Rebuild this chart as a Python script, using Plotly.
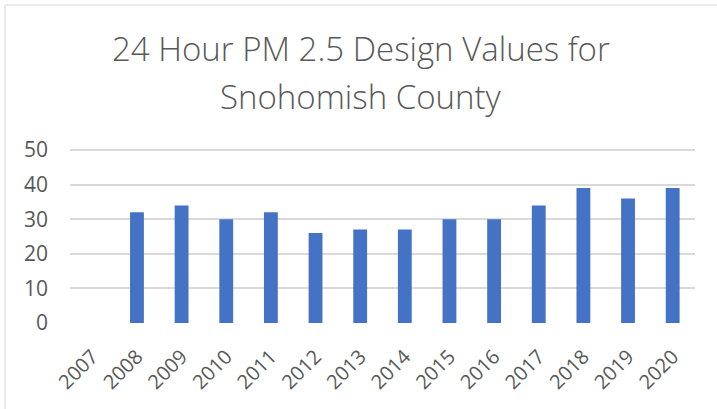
import plotly.graph_objects as go

years = ["2007", "2008", "2009", "2010", "2011", "2012", "2013", "2014",
         "2015", "2016", "2017", "2018", "2019", "2020"]
values = [None, 32, 34, 30, 32, 26, 27, 27, 30, 30, 34, 39, 36, 39]
y_ticks = [0, 10, 20, 30, 40, 50]
title_lines = ["24 Hour PM 2.5 Design Values for", "Snohomish County"]

fig = go.Figure(go.Bar(x=years, y=values, marker=dict(color="#4472C4", line=dict(width=0))))

W, H = 717, 409
L, R, T, B = 70, 22, 149, 86
ph = H - T - B
fig.update_layout(
    width=W, height=H,
    margin=dict(l=L, r=R, t=T, b=B, autoexpand=False),
    paper_bgcolor="white", plot_bgcolor="white",
    bargap=0.69,
    showlegend=False,
    font=dict(family="Open Sans", color="#595959"),
    xaxis=dict(type="category", tickangle=-45, tickfont=dict(size=20, color="#595959"),
               showgrid=False, showline=False, ticks="", automargin=False,
               ticklabelstandoff=17),
    yaxis=dict(range=[0, 50.3], tickvals=y_ticks, showgrid=True, gridcolor="#D9D9D9", gridwidth=1.5,
               zeroline=False, tickfont=dict(size=21, color="#595959"), ticks="",
               showline=False, automargin=False, ticklabelstandoff=21),
    shapes=[dict(type="rect", xref="paper", yref="paper",
                 x0=-65/625, x1=1.2, y0=-1, y1=(H - 5 - B)/ph,
                 line=dict(color="#D9D9D9", width=1), fillcolor="rgba(0,0,0,0)", layer="below")],
)
for i, (txt, ypix) in enumerate(zip(title_lines, [48, 97])):
    fig.add_annotation(text=txt, xref="paper", yref="paper",
                       x=(361 - L) / (W - L - R), y=(H - B - ypix) / ph,
                       xanchor="center", yanchor="middle", showarrow=False,
                       font=dict(size=33, color="#595959", family="Open Sans", weight=300))
fig.write_html("out.html", config={"displayModeBar": False},
               post_script="document.body.style.margin='0';document.body.style.overflow='hidden';")
